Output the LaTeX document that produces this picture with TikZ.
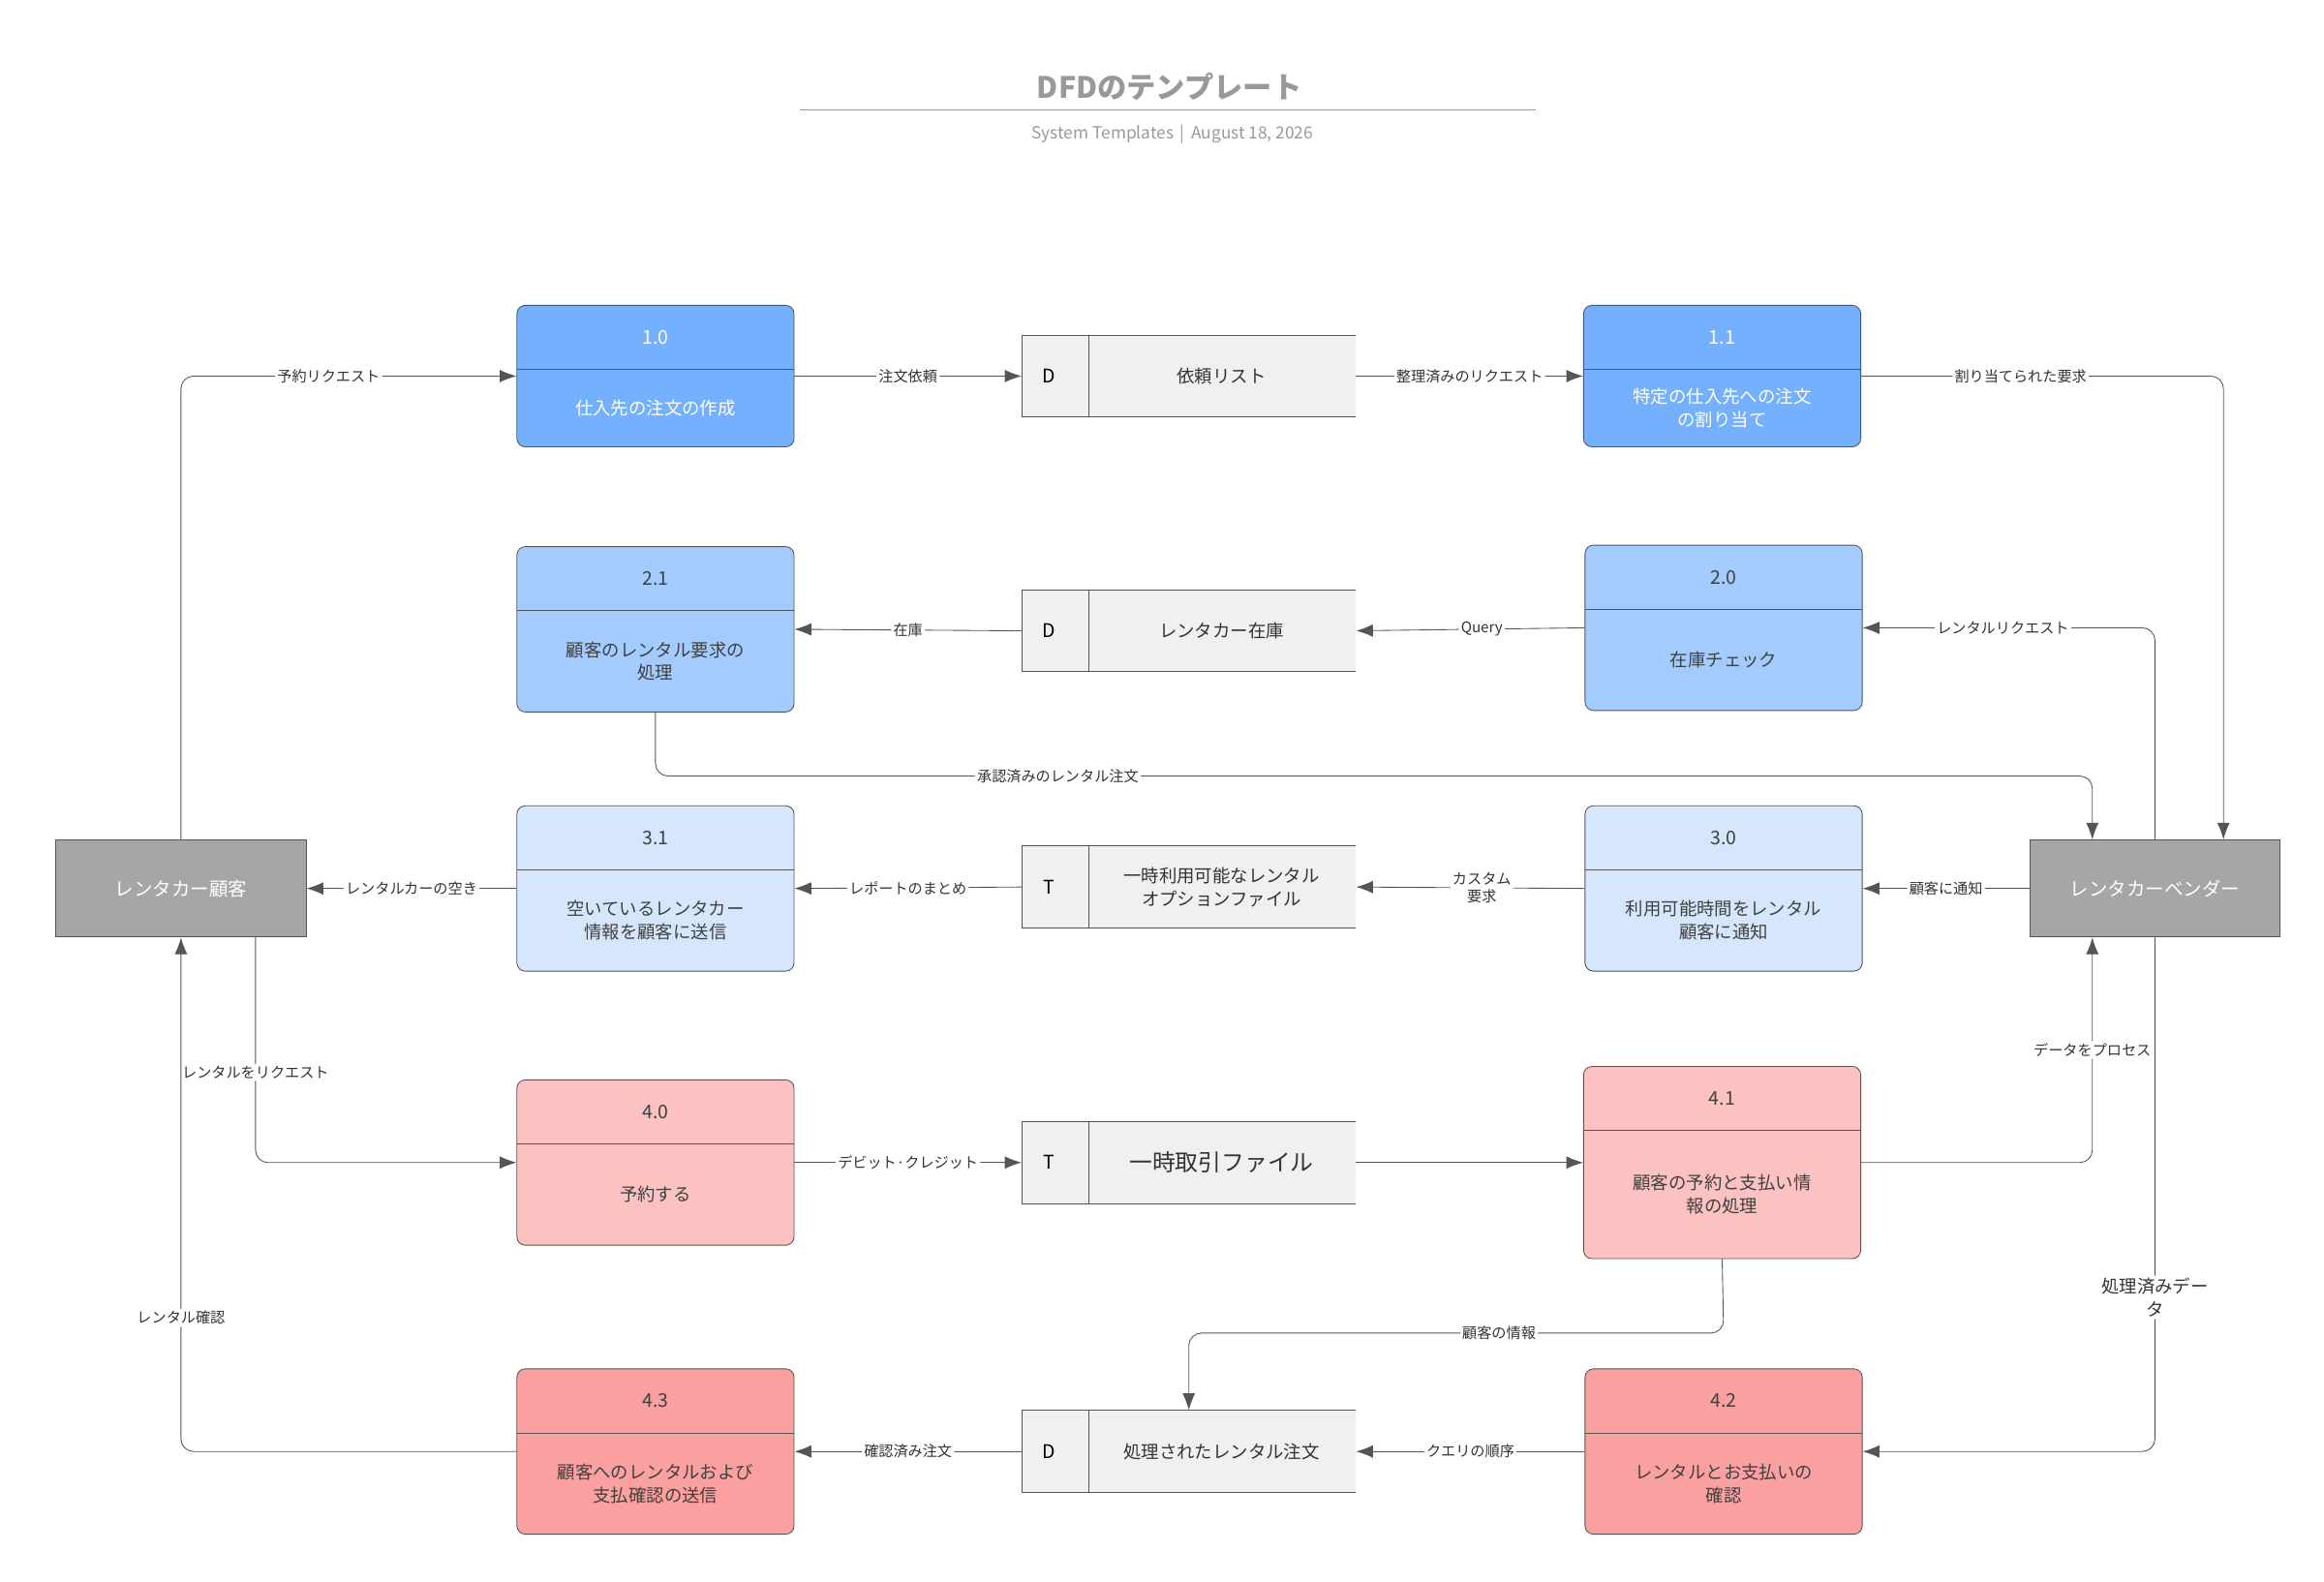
\documentclass[tikz,border=0pt]{standalone}
\usepackage{fontspec}
\setmainfont{Noto Sans CJK JP}
\usetikzlibrary{arrows.meta}

\definecolor{blueA}{HTML}{74B0FE}
\definecolor{blueB}{HTML}{A4CBFD}
\definecolor{blueC}{HTML}{D6E7FD}
\definecolor{redA}{HTML}{FCC1C1}
\definecolor{redB}{HTML}{FBA0A0}
\definecolor{entgray}{HTML}{A5A6A8}
\definecolor{storegray}{HTML}{EFF0EF}
\definecolor{linegray}{HTML}{555555}

\tikzset{
  proc/.style={draw=linegray, rounded corners=4pt, minimum width=4.65cm, inner sep=0pt},
  entity/.style={draw=linegray, fill=entgray, minimum width=4.2cm, minimum height=1.63cm, text=white, font=\fontsize{9}{11}\selectfont},
  num/.style={font=\fontsize{9}{11}\selectfont},
  ptext/.style={font=\fontsize{8.5}{11}\selectfont, align=center},
  lbl/.style={fill=white, inner sep=1pt, font=\fontsize{7}{8}\selectfont, text=black!80, align=center},
  arr/.style={draw=linegray, -{Latex[length=8pt,width=6pt]}, rounded corners=6pt}
}

% process box: name, cx, top, bottom, divider, colour, number, text
\newcommand\procbox[8]{%
  \node[proc, fill=#6, minimum height={(#4-#3)*0.025cm}] (#1) at (#2,{(#3+#4)/2}) {};
  \draw[linegray] ({#2-93},#5) -- ({#2+93},#5);
  \node[num, text=#7] at (#2,{(#3+#5)/2}) {\procnum};
  \node[ptext, text=#7] at (#2,{(#5+#4)/2}) {#8};}
% data store: name, top, letter, text
\newcommand\storebox[4]{%
  \fill[storegray] (686,#2) rectangle (910,{#2+55});
  \draw[linegray] (910,#2) -- (686,#2) -- (686,{#2+55}) -- (910,{#2+55});
  \draw[linegray] (731,#2) -- (731,{#2+55});
  \node[minimum width=5.6cm, minimum height=1.375cm] (#1) at (798,{#2+27.5}) {};
  \node[num] at (704,{#2+27.5}) {#3};
  \node[ptext, text=black!80] at (820,{#2+27.5}) {#4};}

\begin{document}
\begin{tikzpicture}[x=0.025cm, y=-0.025cm]
  \useasboundingbox (0,0) rectangle (1560,1062);

  % title
  \node[font=\fontsize{14}{16}\selectfont\bfseries, text=black!40] (title) at (785,58) {DFDのテンプレート};
  \draw[black!40] (537,74) -- (1031,74);
  \node[font=\fontsize{8}{10}\selectfont, text=black!40] (sub) at (787,90) {System Templates \,|\, August 18, 2026};

  % processes
  \def\procnum{1.0}\procbox{p10}{440}{205}{300}{248}{blueA}{white}{仕入先の注文の作成}
  \def\procnum{1.1}\procbox{p11}{1156}{205}{300}{248}{blueA}{white}{特定の仕入先への注文\\の割り当て}
  \def\procnum{2.1}\procbox{p21}{440}{367}{478}{410}{blueB}{black!75}{顧客のレンタル要求の\\処理}
  \def\procnum{2.0}\procbox{p20}{1157}{366}{477}{409}{blueB}{black!75}{在庫チェック}
  \def\procnum{3.1}\procbox{p31}{440}{541}{652}{584}{blueC}{black!75}{空いているレンタカー\\情報を顧客に送信}
  \def\procnum{3.0}\procbox{p30}{1157}{541}{652}{584}{blueC}{black!75}{利用可能時間をレンタル\\顧客に通知}
  \def\procnum{4.0}\procbox{p40}{440}{725}{836}{768}{redA}{black!75}{予約する}
  \def\procnum{4.1}\procbox{p41}{1156}{716}{845}{759}{redA}{black!75}{顧客の予約と支払い情\\報の処理}
  \def\procnum{4.3}\procbox{p43}{440}{919}{1030}{962}{redB}{black!75}{顧客へのレンタルおよび\\支払確認の送信}
  \def\procnum{4.2}\procbox{p42}{1157}{919}{1030}{962}{redB}{black!75}{レンタルとお支払いの\\確認}

  % data stores
  \storebox{s1}{225}{D}{依頼リスト}
  \storebox{s2}{396}{D}{レンタカー在庫}
  \storebox{s3}{568}{T}{一時利用可能なレンタル\\オプションファイル}
  \storebox{s4}{753}{T}{\fontsize{11}{13}\selectfont 一時取引ファイル}
  \storebox{s5}{947}{D}{処理されたレンタル注文}

  % entities
  \node[entity] (cust) at (121.5,596.5) {レンタカー顧客};
  \node[entity] (vend) at (1446.5,596.5) {レンタカーベンダー};

  % flows
  \draw[arr] (cust.north) |- node[lbl, pos=0.72] {予約リクエスト} (p10.west);
  \draw[arr] (p10.east) -- node[lbl, pos=0.5] {注文依頼} (s1.west);
  \draw[arr] (s1.east) -- node[lbl, pos=0.5] {整理済みのリクエスト} (p11.west);
  \draw[arr] (p11.east) -| node[lbl, pos=0.22] {割り当てられた要求} ([xshift=1.15cm]vend.north);
  \draw[arr] (vend.north) |- node[lbl, pos=0.76] {レンタルリクエスト} (p20.east);
  \draw[arr] (p20.west) -- node[lbl, pos=0.45] {Query} (s2.east);
  \draw[arr] (s2.west) -- node[lbl, pos=0.5] {在庫} (p21.east);
  \draw[arr] (p21.south) -- (440,521) -| node[lbl, pos=0.14] {承認済みのレンタル注文} ([xshift=-1.05cm]vend.north);
  \draw[arr] (vend.west) -- node[lbl, pos=0.5] {顧客に通知} (p30.east);
  \draw[arr] (p30.west) -- node[lbl, pos=0.45] {カスタム\\要求} (s3.east);
  \draw[arr] (s3.west) -- node[lbl, pos=0.5] {レポートのまとめ} (p31.east);
  \draw[arr] (p31.west) -- node[lbl, pos=0.5] {レンタルカーの空き} (cust.east);
  \draw[arr] ([xshift=1.25cm]cust.south) |- node[lbl, pos=0.3] {レンタルをリクエスト} (p40.west);
  \draw[arr] (p40.east) -- node[lbl, pos=0.5] {デビット·クレジット} (s4.west);
  \draw[arr] (s4.east) -- (p41.west);
  \draw[arr] (p41.east) -| node[lbl, pos=0.75] {データをプロセス} ([xshift=-1.05cm]vend.south);
  \draw[arr] (vend.south) |- node[lbl, pos=0.35, font=\fontsize{8.5}{11}\selectfont] {処理済みデー\\タ} (p42.east);
  \draw[arr] (p41.south) -- (1157,895) -| node[lbl, pos=0.21] {顧客の情報} (s5.north);
  \draw[arr] (p42.west) -- node[lbl, pos=0.5] {クエリの順序} (s5.east);
  \draw[arr] (s5.west) -- node[lbl, pos=0.5] {確認済み注文} (p43.east);
  \draw[arr] (p43.west) -| node[lbl, pos=0.63] {レンタル確認} (cust.south);
\end{tikzpicture}
\end{document}
